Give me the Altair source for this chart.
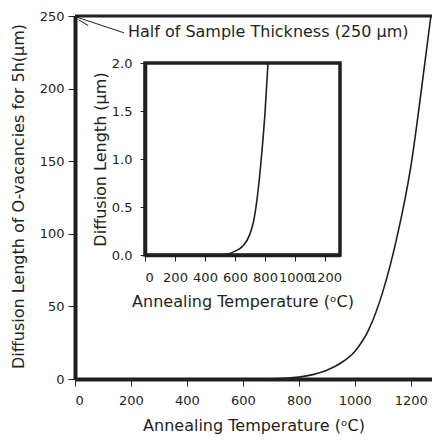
import altair as alt
import pandas as pd

# ---- data ----
main_T = [0, 200, 400, 600, 700, 750, 800, 850, 900, 950, 1000, 1050, 1100, 1150, 1200, 1250, 1272]
main_L = [0, 0, 0, 0, 0.15, 0.5, 1.3, 3, 6, 11, 19, 34, 60, 97, 146, 217, 250]

inset_T = [0, 200, 400, 500, 550, 600, 650, 700, 725, 750, 775, 800, 820]
inset_L = [0, 0, 0, 0, 0.01, 0.04, 0.09, 0.22, 0.36, 0.62, 1.0, 1.48, 2.0]

half_thickness = 250
main_x_ticks = [0, 200, 400, 600, 800, 1000, 1200]
main_y_ticks = [0, 50, 100, 150, 200, 250]
inset_x_ticks = [0, 200, 400, 600, 800, 1000, 1200]
inset_y_ticks = [0.0, 0.5, 1.0, 1.5, 2.0]

annot_text = "Half of Sample Thickness (250 \u03bcm)"
annot_x, annot_y = 189, 239
leader_x = [5, 12]
leader_y = [249.3, 247.5]
leader_x2 = [175, 47.5]
leader_y2 = [238.4, 243.4]

FONT = "DejaVu Sans"
C = "#231f20"
XMAX = 1276
IN_XMAX = 1300
IN_YMAX = 2.0
PLOT_W = 357
PLOT_H = 363

main_df = pd.DataFrame({"T": main_T, "L": main_L})
inset_df = pd.DataFrame({"T": inset_T, "L": inset_L})
thr_df = pd.DataFrame({"T": [0, XMAX], "L": [half_thickness, half_thickness]})
lead_df = pd.DataFrame({"T": leader_x, "L": leader_y, "T2": leader_x2, "L2": leader_y2})
txt_df = pd.DataFrame({"T": [annot_x], "L": [annot_y], "txt": [annot_text]})
frame_df = pd.DataFrame({"T": [0], "T2": [IN_XMAX], "L": [0], "L2": [IN_YMAX]})

xs_main = alt.Scale(domain=[0, XMAX], nice=False, zero=False)
ys_main = alt.Scale(domain=[0, 250], nice=False)
xs_in = alt.Scale(domain=[0, IN_XMAX], range=[70, 265], nice=False, zero=False)
ys_in = alt.Scale(domain=[0, IN_YMAX], range=[239, 47], nice=False)

common = dict(grid=False, domainColor=C, tickColor=C, tickWidth=1,
              labelFont=FONT, labelFontSize=13, labelColor=C,
              titleFont=FONT, titleFontSize=16, titleFontWeight="normal", titleColor=C)

x_axis_main = alt.Axis(values=main_x_ticks, format="d", title="Annealing Temperature (\u1d52C)",
                       orient="bottom", domainWidth=4, tickSize=7, labelPadding=8,
                       titleY=46, titleBaseline="middle", labelOverlap=False, **common)
y_axis_main = alt.Axis(values=main_y_ticks, format="d",
                       title="Diffusion Length of O-vacancies for 5h(\u03bcm)",
                       orient="left", domainWidth=4, tickSize=7, labelPadding=4,
                       titleX=-57, titleY=180, titleBaseline="middle", labelOverlap=False, **common)
x_axis_in = alt.Axis(values=inset_x_ticks, format="d", title="Annealing Temperature (\u1d52C)",
                     orient="bottom", offset=239 - PLOT_H, domainWidth=3.5, tickSize=6, labelPadding=10,
                     titleY=46, titleBaseline="middle", labelOverlap=False, **common)
y_axis_in = alt.Axis(values=inset_y_ticks, format=".1f", title="Diffusion Length (\u03bcm)",
                     orient="left", offset=-70, domainWidth=3.5, tickSize=5, labelPadding=8,
                     titleX=-45, titleBaseline="middle", labelOverlap=False, **common)

def mx(field="T"):
    return alt.X(f"{field}:Q", scale=xs_main, axis=x_axis_main)

def my(field="L"):
    return alt.Y(f"{field}:Q", scale=ys_main, axis=y_axis_main)

main_curve = alt.Chart(main_df).mark_line(color=C, strokeWidth=1.6, interpolate="monotone").encode(
    x=mx(), y=my())
thr_line = alt.Chart(thr_df).mark_line(color=C, strokeWidth=3).encode(x=mx(), y=my())
leaders = alt.Chart(lead_df).mark_rule(color=C, strokeWidth=1).encode(
    x=mx(), y=my(), x2="T2:Q", y2="L2:Q")
label = alt.Chart(txt_df).mark_text(align="left", baseline="middle", font=FONT, fontSize=16,
                                    color=C).encode(x=mx(), y=my(), text="txt:N")

main_layer = alt.layer(thr_line, main_curve, leaders, label)

def ix(field="T"):
    return alt.X(f"{field}:Q", scale=xs_in, axis=x_axis_in)

def iy(field="L"):
    return alt.Y(f"{field}:Q", scale=ys_in, axis=y_axis_in)

frame = alt.Chart(frame_df).mark_rect(fill="white", fillOpacity=0, stroke=C, strokeWidth=3.5).encode(
    x=ix(), x2="T2:Q", y=iy(), y2="L2:Q")
inset_curve = alt.Chart(inset_df).mark_line(color=C, strokeWidth=1.6, interpolate="monotone").encode(
    x=ix(), y=iy())

inset_layer = alt.layer(frame, inset_curve)

chart = alt.layer(main_layer, inset_layer).resolve_scale(
    x="independent", y="independent"
).properties(
    width=PLOT_W, height=PLOT_H,
    autosize=alt.AutoSizeParams(type="none"),
    padding={"left": 67, "top": 8, "right": 0, "bottom": 59},
).configure_view(stroke=None)

chart.save("out.html", embed_options={"renderer": "svg", "actions": False})
